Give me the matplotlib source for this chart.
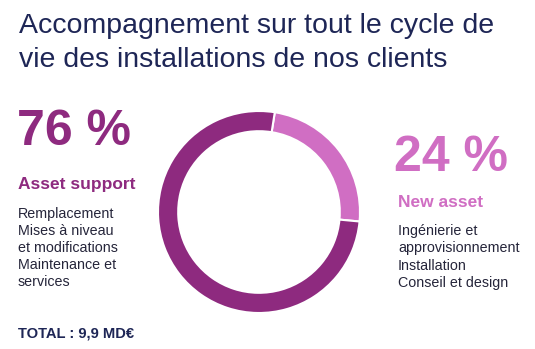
import matplotlib
matplotlib.use("Agg")
import matplotlib.pyplot as plt

labels = ["New asset", "Asset support"]
values = [24, 76]
colors = ["#D06EC3", "#8E2A7F"]
title_lines = ["Accompagnement sur tout le cycle de", "vie des installations de nos clients"]
left_items = ["Remplacement", "Mises à niveau", "et modifications", "Maintenance et", "services"]
right_items = ["Ingénierie et", "approvisionnement", "Installation", "Conseil et design"]
total = "TOTAL : 9,9 MD€"

plt.rcParams['font.family'] = ['Liberation Sans', 'DejaVu Sans']
W, H = 535, 349
fig = plt.figure(figsize=(W/100, H/100), dpi=100)
fig.patch.set_facecolor("white")

def fx(x): return x / W
def fy(y): return 1 - y / H

navy = "#1E2656"
text_col = "#25253A"
for i, line in enumerate(title_lines):
    fig.text(fx(19), fy(33 + 34 * i), line, fontsize=20.5, color=navy, va="baseline", ha="left")

# donut
cx, cy, r = 259, 212, 101
ax = fig.add_axes([fx(cx - r), fy(cy + r), 2*r/W, 2*r/H])
ax.pie(values, colors=colors, startangle=81, counterclock=False,
       wedgeprops=dict(width=0.2, edgecolor="white", linewidth=1.5))
ax.set_aspect("equal")
ax.set_xlim(-1, 1); ax.set_ylim(-1, 1)

fig.text(fx(17), fy(145), f"{values[1]} %", fontsize=36, fontweight="bold", color=colors[1], va="baseline", ha="left")
fig.text(fx(18), fy(189), labels[1], fontsize=12.5, fontweight="bold", color=colors[1], va="baseline", ha="left")
for i, line in enumerate(left_items):
    fig.text(fx(18), fy(218 + 17 * i), line, fontsize=10.3, color=text_col, va="baseline", ha="left")
fig.text(fx(18), fy(338), total, fontsize=10.6, fontweight="bold", color=navy, va="baseline", ha="left")

fig.text(fx(394), fy(171), f"{values[0]} %", fontsize=36, fontweight="bold", color=colors[0], va="baseline", ha="left")
fig.text(fx(398), fy(207), labels[0], fontsize=12.5, fontweight="bold", color=colors[0], va="baseline", ha="left")
for i, line in enumerate(right_items):
    fig.text(fx(398), fy(235 + 17.3 * i), line, fontsize=10.3, color=text_col, va="baseline", ha="left")

fig.savefig("out.png", dpi=100, facecolor="white")
